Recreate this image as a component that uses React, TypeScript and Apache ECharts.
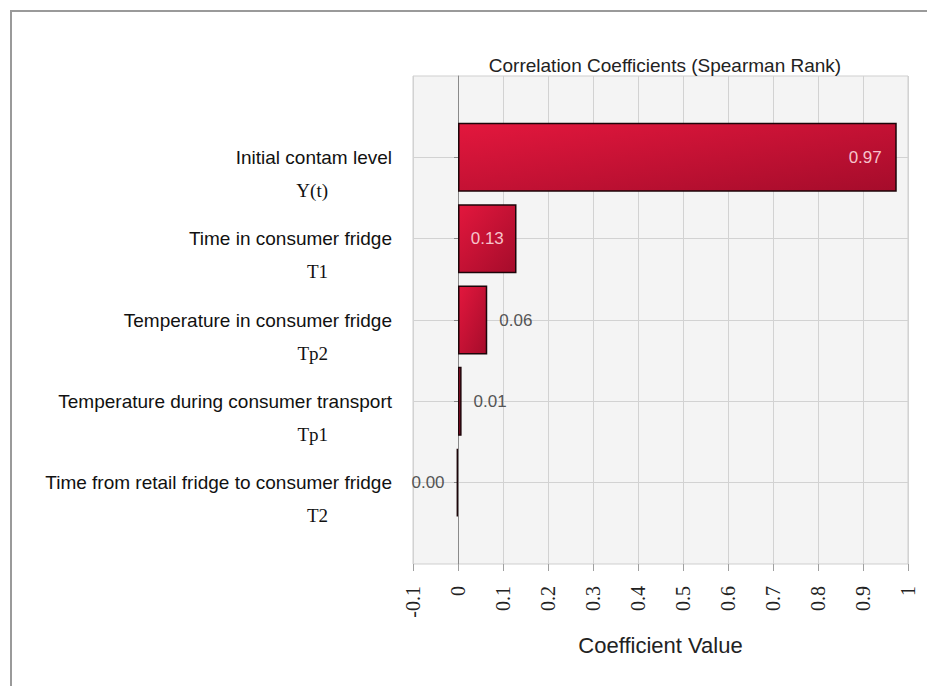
import React, { useEffect, useRef } from "react";
import * as echarts from "echarts";

const titleText = "Correlation Coefficients (Spearman Rank)";
const axisName = "Coefficient Value";
const names = [
  "Initial contam level",
  "Time in consumer fridge",
  "Temperature in consumer fridge",
  "Temperature during consumer transport",
  "Time from retail fridge to consumer fridge",
];
const codes = ["Y(t)", "T1", "Tp2", "Tp1", "T2"];
const values = [0.975, 0.13, 0.065, 0.008, -0.003];
const valueLabels = ["0.97", "0.13", "0.06", "0.01", "0.00"];
const labelPositions = ["insideRight", "inside", "right", "right", "left"];
const xMin = -0.1;
const xMax = 1;
const xStep = 0.1;

export default function App() {
  const ref = useRef<HTMLDivElement>(null);
  useEffect(() => {
    if (!ref.current) return;
    const chart = echarts.init(ref.current, null, { renderer: "svg" });
    const cats = ["", ...names, ""];
    const seriesData: any[] = ["-"];
    values.forEach((v, i) => {
      const pos = labelPositions[i];
      const inside = pos.startsWith("inside");
      seriesData.push({
        value: v,
        label: {
          show: true,
          position: pos,
          distance: inside ? 15 : 12,
          color: inside ? "#f6c3cb" : "#555555",
          formatter: () => valueLabels[i],
        },
      });
    });
    seriesData.push("-");
    const n = cats.length;
    chart.setOption({
      animation: false,
      backgroundColor: "#ffffff",
      title: {
        text: titleText,
        left: 660,
        top: 51,
        textAlign: "center",
        textStyle: {
          fontFamily: "Liberation Sans, Arial, sans-serif",
          fontSize: 19,
          fontWeight: "normal",
          color: "#222",
        },
      },
      graphic: [
        { type: "line", shape: { x1: 10, y1: 11, x2: 927, y2: 11 }, style: { stroke: "#9a9a9a", lineWidth: 2 } },
        { type: "line", shape: { x1: 11, y1: 10, x2: 11, y2: 686 }, style: { stroke: "#9a9a9a", lineWidth: 2 } },
      ],
      grid: {
        left: 413,
        right: 19,
        top: 76,
        bottom: 122,
        show: true,
        backgroundColor: "#f4f4f4",
        borderColor: "#cfcfcf",
        borderWidth: 1,
      },
      xAxis: {
        type: "value",
        min: xMin,
        max: xMax,
        interval: xStep,
        name: axisName,
        nameLocation: "middle",
        nameGap: 70,
        nameTextStyle: {
          fontFamily: "Liberation Sans, Arial, sans-serif",
          fontSize: 22,
          color: "#222",
        },
        axisLine: { onZero: false, lineStyle: { color: "#a0a0a0", width: 1 } },
        axisTick: { show: true, length: 7, lineStyle: { color: "#a0a0a0" } },
        axisLabel: {
          rotate: 90,
          margin: 22,
          fontFamily: "Liberation Serif, Times New Roman, serif",
          fontSize: 20,
          color: "#222",
        },
        splitLine: { show: true, lineStyle: { color: "#d2d2d2", width: 1 } },
      },
      yAxis: {
        type: "category",
        data: cats,
        inverse: true,
        boundaryGap: false,
        axisLine: { onZero: true, lineStyle: { color: "#8a8a8a", width: 1 } },
        axisTick: {
          show: true,
          length: 4,
          interval: (i: number) => i > 0 && i < n - 1,
          lineStyle: { color: "#8a8a8a" },
        },
        splitLine: {
          show: true,
          interval: (i: number) => i > 0 && i < n - 1,
          lineStyle: { color: "#d2d2d2", width: 1 },
        },
        axisLabel: {
          margin: 21,
          align: "right",
          interval: 0,
          formatter: (v: string, idx: number) => {
            if (!v) return "";
            return "{e| }\n{a|" + v + "}\n{b|" + codes[idx - 1] + "}";
          },
          rich: {
            e: { fontSize: 10, lineHeight: 33 },
            a: {
              fontFamily: "Liberation Sans, Arial, sans-serif",
              fontSize: 19,
              lineHeight: 33,
              color: "#111",
              align: "right",
            },
            b: {
              fontFamily: "Liberation Serif, Times New Roman, serif",
              fontSize: 19,
              lineHeight: 33,
              color: "#111",
              align: "right",
              padding: [0, 64, 0, 0],
            },
          },
        },
      },
      series: [
        {
          type: "bar",
          data: seriesData,
          barWidth: 69,
          itemStyle: {
            color: new echarts.graphic.LinearGradient(0, 0, 1, 1, [
              { offset: 0, color: "#e3173d" },
              { offset: 1, color: "#a50c2b" },
            ]),
            borderColor: "#1c0509",
            borderWidth: 1.5,
          },
          label: {
            show: true,
            fontFamily: "Liberation Sans, Arial, sans-serif",
            fontSize: 17,
          },
        },
      ],
    });
    return () => chart.dispose();
  }, []);
  return (
    <div
      ref={ref}
      style={{ position: "absolute", left: 0, top: 0, width: 927, height: 686 }}
    />
  );
}
